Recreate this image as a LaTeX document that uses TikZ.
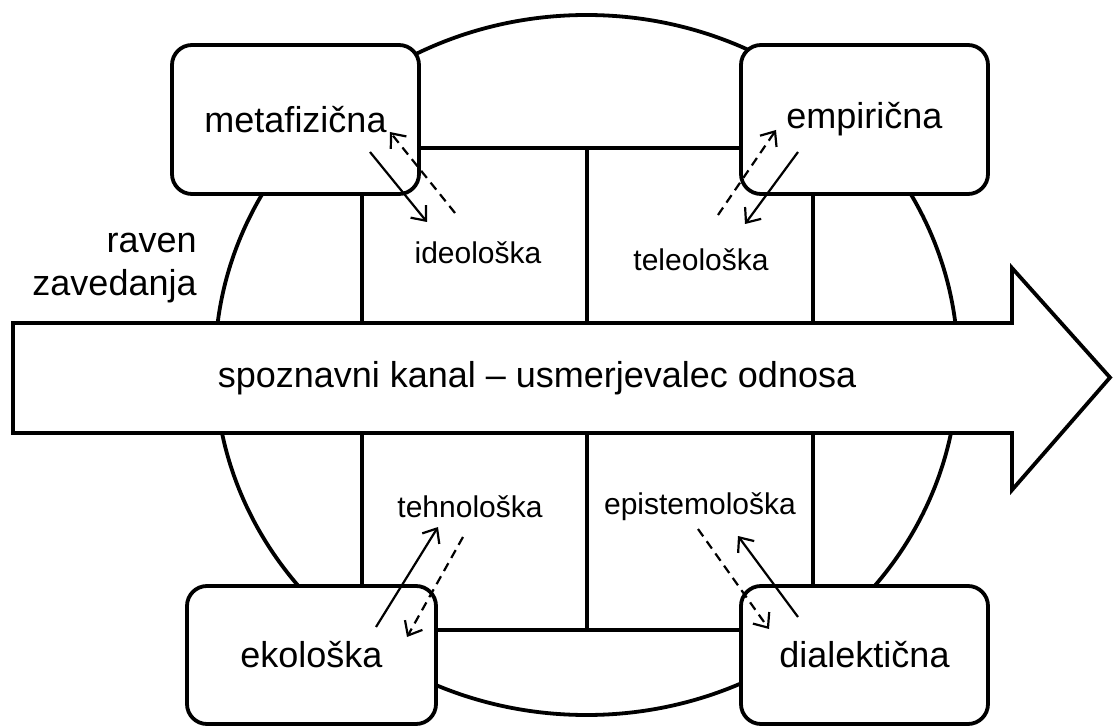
\documentclass[tikz,border=0pt]{standalone}
\usepackage{fontspec}
\setmainfont{Liberation Sans}
\usetikzlibrary{arrows.meta, positioning}

\begin{document}
\begin{tikzpicture}[
    x=0.5pt, y=-0.5pt,
    line/.style={line width=1.9pt, draw=black},
    box/.style={rectangle, line width=1.9pt, draw=black, fill=white, rounded corners=10pt, inner sep=0pt, font=\fontsize{18}{21}\selectfont},
    lbl/.style={inner sep=0pt, font=\fontsize{15}{18}\selectfont},
    link/.style={-{Straight Barb[length=6pt, width=10pt]}, line width=1.1pt},
    dlink/.style={link, dash pattern=on 4.5pt off 3pt}
]
    \useasboundingbox (0,0) rectangle (1115,727);

    % outer circle
    \draw [line, fill=white] (586.5,365) ellipse [x radius=185.75pt, y radius=175pt];

    % inner frame, upper half
    \draw [line] (419,148) -- (741,148);
    \draw [line] (362,194) -- (362,323);
    \draw [line] (587,148) -- (587,323);
    \draw [line] (813,194) -- (813,323);
    % inner frame, lower half
    \draw [line] (436,630) -- (741,630);
    \draw [line] (362,433) -- (362,586);
    \draw [line] (587,433) -- (587,630);
    \draw [line] (813,433) -- (813,586);

    % the channel
    \draw [line, fill=white, line join=miter] (13,323) -- (1012,323) -- (1012,268) -- (1110,377.5)
        -- (1012,490) -- (1012,433) -- (13,433) -- cycle;
    \node (channel) [inner sep=0pt, font=\fontsize{18}{21}\selectfont] at (537,378) {spoznavni kanal -- usmerjevalec odnosa};

    \node (level) [inner sep=0pt, anchor=east, align=right, font=\fontsize{18}{21.5}\selectfont] at (197,268.5) {raven\\zavedanja};

    % corner boxes
    \node (meta) [box, minimum width=123.5pt, minimum height=74.5pt] at (295.5,119.5) {metafizična};
    \node (emp)  [box, minimum width=123.5pt, minimum height=74.5pt] at (864.5,119.5) {empirična};
    \node (eko)  [box, minimum width=124.5pt, minimum height=69pt] at (311.5,655) {ekološka};
    \node (dial) [box, minimum width=123.5pt, minimum height=69pt] at (864.5,655) {dialektična};

    % inner labels
    \node (ideo) [lbl] at (478,253) {ideološka};
    \node (tele) [lbl] at (701,260) {teleološka};
    \node (tehn) [lbl] at (470,507) {tehnološka};
    \node (epis) [lbl] at (700,507) {epistemološka};

    % arrow ends
    \coordinate (meta-out) at (370,152);  \coordinate (ideo-in) at (427,222);
    \coordinate (ideo-out) at (455,213);  \coordinate (meta-in) at (390,132);
    \coordinate (tele-out) at (718,215);  \coordinate (emp-in) at (776,130);
    \coordinate (emp-out) at (798,152);   \coordinate (tele-in) at (745,224);
    \coordinate (eko-out) at (376,627);   \coordinate (tehn-in) at (438,527);
    \coordinate (tehn-out) at (463,537);  \coordinate (eko-in) at (407,637);
    \coordinate (epis-out) at (698,529);  \coordinate (dial-in) at (769,629);
    \coordinate (dial-out) at (798,617);  \coordinate (epis-in) at (738,536);

    \draw [link] (meta-out) -- (ideo-in);
    \draw [dlink] (ideo-out) -- (meta-in);
    \draw [dlink] (tele-out) -- (emp-in);
    \draw [link] (emp-out) -- (tele-in);
    \draw [link] (eko-out) -- (tehn-in);
    \draw [dlink] (tehn-out) -- (eko-in);
    \draw [dlink] (epis-out) -- (dial-in);
    \draw [link] (dial-out) -- (epis-in);
\end{tikzpicture}
\end{document}
